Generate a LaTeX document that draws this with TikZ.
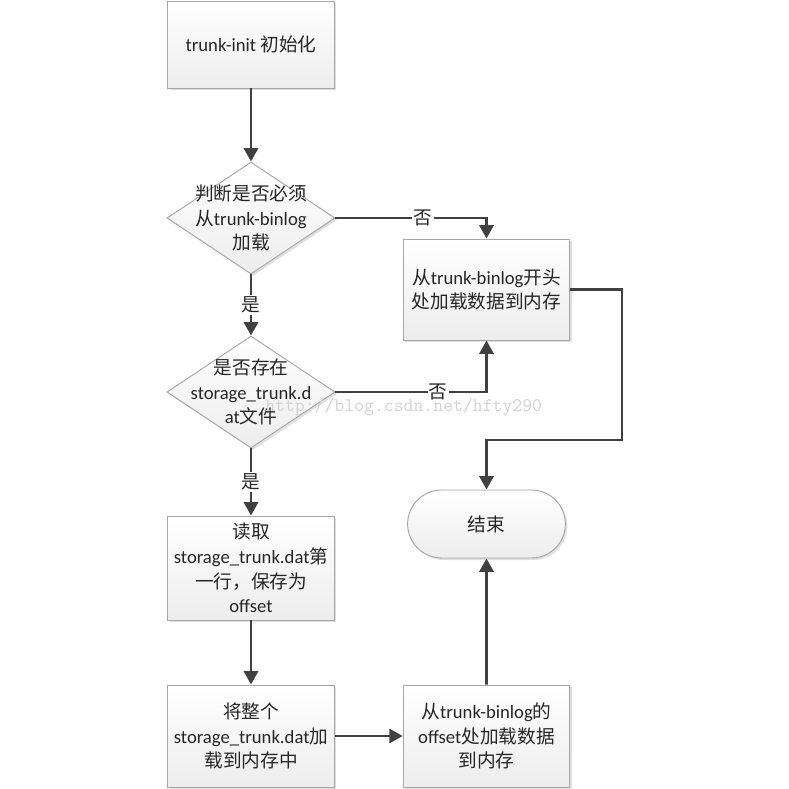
\documentclass[tikz,border=0pt]{standalone}
\usepackage{fontspec}
\setmainfont{Carlito}
\newfontfamily\cjk{Noto Sans CJK SC}
\usetikzlibrary{arrows.meta,shapes.geometric,shapes.misc,shadows}
\newcommand\zh[1]{{\cjk #1}}
\begin{document}
\begin{tikzpicture}[x=0.75pt,y=-0.75pt,
  every node/.style={font=\fontsize{14}{18.6}\selectfont, text=black!85},
  shade/.style={draw=gray!70, line width=0.7pt, top color=white, bottom color=gray!14,
     drop shadow={shadow xshift=1.5pt, shadow yshift=-1.5pt, opacity=0.25}},
  box/.style={shade, rectangle, minimum width=125pt, align=center, inner sep=2pt},
  dia/.style={shade, diamond, minimum width=126pt, minimum height=84pt, inner sep=0pt},
  term/.style={shade, rounded rectangle, minimum width=125pt, minimum height=51pt},
  txt/.style={align=center, inner sep=0pt},
  conn/.style={draw=black!75, line width=2.2pt, -{Triangle[width=10.5pt,length=10pt]}},
  lab/.style={fill=white, inner sep=1pt}
]
\useasboundingbox (0,0) rectangle (789,789);
\fill[white] (0,0) rectangle (789,789);

\node[box, minimum height=65.25pt] (n1) at (251,44.5) {trunk-init \zh{初始化}};
\node[dia] (d1) at (251,218) {};
\node[txt] (t1) at (d1) {\zh{判断是否必须}\\\zh{从}trunk-binlog\\\zh{加载}};
\node[box, minimum height=75.75pt] (b2) at (486.5,289.5) {\zh{从}trunk-binlog\zh{开头}\\\zh{处加载数据到内存}};
\node[dia] (d2) at (251,392) {};
\node[txt] (t2) at (d2) {\zh{是否存在}\\storage\_trunk.d\\at\zh{文件}};
\node[box, minimum height=78pt] (b3) at (251,568) {\zh{读取}\\storage\_trunk.dat\zh{第}\\\zh{一行，保存为}\\offset};
\node[box, minimum height=76.5pt] (b4) at (251,736) {\zh{将整个}\\storage\_trunk.dat\zh{加}\\\zh{载到内存中}};
\node[box, minimum height=76.5pt] (b5) at (486.5,736) {\zh{从}trunk-binlog\zh{的}\\offset\zh{处加载数据}\\\zh{到内存}};
\node[term] (e) at (486.5,524) {\zh{结束}};
\coordinate (k1) at (622,440);

\draw[conn] (n1) -- (d1);
\draw[conn] (d1.east) -| node[lab, pos=0.29] {\zh{否}} (b2.north);
\draw[conn] (d1.south) -- node[lab] {\zh{是}} (d2.north);
\draw[conn] (d2.east) -| node[lab, pos=0.34] {\zh{否}} (b2.south);
\draw[conn] (d2.south) -- node[lab] {\zh{是}} (b3.north);
\draw[conn] (b3) -- (b4);
\draw[conn] (b4) -- (b5);
\draw[conn] (b5) -- (e);
\draw[conn] (b2.east) -| (k1) -| (e.north);

\node[anchor=base west, inner sep=0pt, font=\ttfamily\fontsize{14.4}{16}\selectfont, text=gray!35] (wm) at (265,411) {http://blog.csdn.net/hfty290};
\end{tikzpicture}
\end{document}
